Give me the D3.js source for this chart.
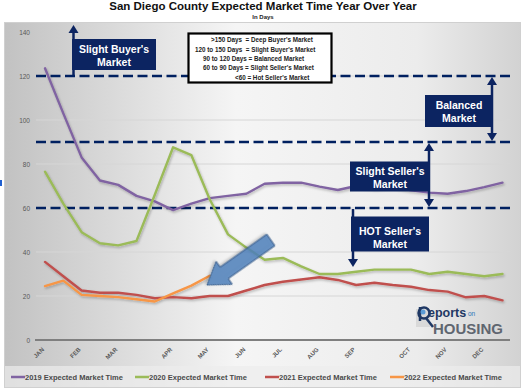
<!DOCTYPE html>
<html><head><meta charset="utf-8">
<script src="https://cdn.jsdelivr.net/npm/d3@7/dist/d3.min.js"></script>
<style>
html,body{margin:0;padding:0;background:#fff;}
svg{display:block;font-family:Arial,"Liberation Sans",sans-serif;}
</style></head>
<body>
<svg id="c" width="525" height="392"></svg>
<script>
// ---------- data ----------
const monthLabels = ["JAN","","FEB","","MAR","","","APR","","MAY","","JUN","","JUL","","AUG","","SEP","","","OCT","","NOV","","DEC",""];
const yTicks = [0,20,40,60,80,100,120,140];
const series2019 = [123.5,103,83,72.5,70.5,65.5,63,59,62,64.5,65.5,66.5,71,71.5,71.5,69.7,68.2,70,69,69.5,68,67,66.5,67.7,69.5,71.5];
const series2020 = [76.5,62,49,44,43,45,66,87.6,84,64,48,42,36.5,37.3,33.5,30,30,31,32,32,32,30,31,30,29,30];
const series2021 = [35.5,29,22.5,21.5,21.5,20.5,19,19.5,19,20,20,22.5,25,26.5,27.5,28.5,27.3,25,26,25,24.2,22.7,22,19.4,20,18];
const series2022 = [24.5,27,20.5,20,19.5,18.5,17.5,21.2,24.7,29.2];
const seriesNames = ["2019 Expected Market Time","2020 Expected Market Time","2021 Expected Market Time","2022 Expected Market Time"];
const seriesColors = ["#8064a2","#9bbb59","#c0504d","#f79646"];
const thresholds = [120,90,60];
const legendLines = [">150 Days  = Deep Buyer's Market","120 to 150 Days  = Slight Buyer's Market","90 to 120 Days = Balanced Market","60 to 90 Days = Slight Seller's Market","<60 = Hot Seller's Market"];

// ---------- setup ----------
const svg = d3.select("#c");
const defs = svg.append("defs");
const g1 = defs.append("linearGradient").attr("id","bg").attr("x1","0").attr("x2","1").attr("y1","0").attr("y2","0");
g1.append("stop").attr("offset","0").attr("stop-color","#c2c2c2");
g1.append("stop").attr("offset","0.45").attr("stop-color","#f5f5f5");
g1.append("stop").attr("offset","0.8").attr("stop-color","#ececec");
g1.append("stop").attr("offset","1").attr("stop-color","#d2d2d2");
const f = defs.append("filter").attr("id","sh").attr("x","-10%").attr("y","-10%").attr("width","120%").attr("height","130%");
f.append("feDropShadow").attr("dx",1).attr("dy",1.5).attr("stdDeviation",1).attr("flood-color","#000").attr("flood-opacity",0.25);

// title
svg.append("text").attr("x",263).attr("y",10).attr("text-anchor","middle")
  .attr("font-size",11.5).attr("font-weight","bold").attr("fill","#111")
  .text("San Diego County Expected Market Time Year Over Year");
svg.append("text").attr("x",263).attr("y",19).attr("text-anchor","middle")
  .attr("font-size",6).attr("font-weight","bold").attr("fill","#222").text("In Days");

// panel
svg.append("rect").attr("x",4.5).attr("y",22.5).attr("width",516).attr("height",365)
  .attr("fill","url(#bg)").attr("stroke","#d0d0d0");
svg.append("rect").attr("x",5).attr("y",366).attr("width",515).attr("height",21).attr("fill","#ececec").attr("opacity",0.7);
svg.append("rect").attr("x",0).attr("y",180).attr("width",2).attr("height",6).attr("fill","#1f5fd0");

// scales
const x = d3.scalePoint().domain(d3.range(monthLabels.length)).range([45,502.5]);
const y = d3.scaleLinear().domain([0,140]).range([340,32]);

// gridlines
svg.append("g").selectAll("line").data(yTicks.filter(v=>v>0 && v<140)).join("line")
  .attr("x1",36).attr("x2",510).attr("y1",d=>y(d)).attr("y2",d=>y(d))
  .attr("stroke","#d6d6d6").attr("stroke-width",1);

// y axis labels
const yAxis = d3.axisLeft(y).tickValues(yTicks).tickSize(0).tickPadding(0);
const ya = svg.append("g").attr("transform","translate(30,0)").call(yAxis);
ya.select(".domain").remove();
ya.selectAll("text").attr("font-size",6.5).attr("fill","#595959").attr("font-family","Arial,'Liberation Sans',sans-serif");

// x axis
svg.append("line").attr("x1",35).attr("x2",510).attr("y1",y(0)).attr("y2",y(0)).attr("stroke","#7f7f7f").attr("stroke-width",2);
const xAxis = d3.axisBottom(x).tickValues(d3.range(monthLabels.length).filter(i=>monthLabels[i]!==""))
  .tickFormat(i=>monthLabels[i]).tickSize(0).tickPadding(0);
const xa = svg.append("g").attr("transform",`translate(0,${y(0)})`).call(xAxis);
xa.select(".domain").remove();
xa.selectAll("text").attr("font-size",6).attr("font-weight","bold").attr("fill","#595959")
  .attr("font-family","Arial,'Liberation Sans',sans-serif")
  .attr("text-anchor","end").attr("dy",0).attr("y",0)
  .attr("transform","translate(-1,10) rotate(-45)");

// threshold dashed lines
svg.append("g").selectAll("line").data(thresholds).join("line")
  .attr("x1",36).attr("x2",511).attr("y1",d=>y(d)).attr("y2",d=>y(d))
  .attr("stroke","#002060").attr("stroke-width",2.5).attr("stroke-dasharray","10,4.5");

// series lines
const line = d3.line().x((d,i)=>x(i)).y(d=>y(d));
const allSeries = [series2019,series2020,series2021,series2022];
svg.append("g").attr("filter","url(#sh)").selectAll("path").data(allSeries).join("path")
  .attr("d",line).attr("fill","none").attr("stroke",(d,i)=>seriesColors[i])
  .attr("stroke-width",2.4).attr("stroke-linejoin","round").attr("stroke-linecap","round");

// ---------- annotations ----------
const navy = "#0c2461";
function vArrow(xx, y1, y2, headTop, headBot){
  svg.append("line").attr("x1",xx).attr("x2",xx).attr("y1",y1+(headTop?6:0)).attr("y2",y2-(headBot?6:0))
    .attr("stroke",navy).attr("stroke-width",2.5);
  if(headTop) svg.append("path").attr("d",`M${xx},${y1} L${xx-5},${y1+8} L${xx+5},${y1+8} Z`).attr("fill",navy);
  if(headBot) svg.append("path").attr("d",`M${xx},${y2} L${xx-5},${y2-8} L${xx+5},${y2-8} Z`).attr("fill",navy);
}
function box(bx,by,bw,bh,lines,cx,ly){
  svg.append("rect").attr("x",bx).attr("y",by).attr("width",bw).attr("height",bh).attr("fill",navy);
  lines.forEach((t,i)=>svg.append("text").attr("x",cx).attr("y",ly[i]).attr("text-anchor","middle")
    .attr("font-size",10.5).attr("font-weight","bold").attr("fill","#fff").text(t));
}
vArrow(73.5,25,y(120)-1,true,false);
box(72,39,84,31,["Slight Buyer's","Market"],114,[52.5,66]);
vArrow(492,y(120)+1,y(90)-1,true,true);
box(425,95,68,32,["Balanced","Market"],459,[108.5,121.5]);
vArrow(429,y(90)+1,y(60)-1,true,true);
box(350,161.5,80,30,["Slight Seller's","Market"],390,[174.5,187.5]);
vArrow(353,y(60)+1,267,false,true);
box(351,216.5,78,35,["HOT Seller's","Market"],390,[234.5,247.5]);

// legend box
svg.append("rect").attr("x",188.5).attr("y",33.5).attr("width",143).attr("height",49)
  .attr("fill","#fff").attr("stroke","#000").attr("stroke-width",2.2);
const lx = [211,195,203,203,235];
legendLines.forEach((t,i)=>svg.append("text").attr("x",lx[i]).attr("y",42.3+i*9.3)
  .attr("font-size",6.3).attr("font-weight","bold").attr("fill","#222").attr("xml:space","preserve").text(t));

// pointer arrow
(function(){
  const tx=270.8, ty=240, px=207, py=285;
  const ang = Math.atan2(py-ty,px-tx)*180/Math.PI;
  const L = Math.hypot(px-tx,py-ty);
  const bw=7, hw=14, hl=21;
  const pts=[[0,-bw],[L-hl,-bw],[L-hl,-hw],[L,0],[L-hl,hw],[L-hl,bw],[0,bw]];
  svg.append("path").attr("d","M"+pts.map(p=>p.join(",")).join("L")+"Z")
    .attr("transform",`translate(${tx},${ty}) rotate(${ang})`)
    .attr("fill","#4f81bd").attr("fill-opacity",0.82).attr("stroke","#385d8a").attr("stroke-width",1)
    .attr("filter","url(#sh)");
})();

// logo
const lg = svg.append("g");
lg.append("rect").attr("x",416).attr("y",309).attr("width",14).attr("height",18).attr("fill","#d9d9d9");
lg.append("circle").attr("cx",424).attr("cy",313).attr("r",5.5).attr("fill","none").attr("stroke","#1f3864").attr("stroke-width",2.5);
lg.append("line").attr("x1",420).attr("y1",307).attr("x2",420).attr("y2",321).attr("stroke","#1f3864").attr("stroke-width",2.5);
lg.append("line").attr("x1",426).attr("y1",318).attr("x2",433).attr("y2",327).attr("stroke","#1f3864").attr("stroke-width",2.5);
lg.append("circle").attr("cx",423).attr("cy",312).attr("r",2.5).attr("fill","#5b9bd5");
lg.append("text").attr("x",428).attr("y",317).attr("font-size",12.5).attr("font-weight","bold").attr("fill","#1f3864").text("eports");
lg.append("text").attr("x",468).attr("y",316).attr("font-size",6.5).attr("fill","#2e75b6").text("on");
lg.append("text").attr("x",433).attr("y",333.5).attr("font-size",15).attr("font-weight","bold").attr("fill","#5f6670").attr("textLength",70).text("HOUSING");

// bottom legend
const legX = [11,135,265,390];
const leg = svg.append("g");
seriesNames.forEach((n,i)=>{
  leg.append("line").attr("x1",legX[i]).attr("x2",legX[i]+14).attr("y1",377).attr("y2",377)
    .attr("stroke",seriesColors[i]).attr("stroke-width",2.5);
  leg.append("text").attr("x",legX[i]+14).attr("y",380).attr("font-size",7.5).attr("font-weight","bold")
    .attr("fill","#4a4a4a").text(n);
});
</script>
</body></html>
